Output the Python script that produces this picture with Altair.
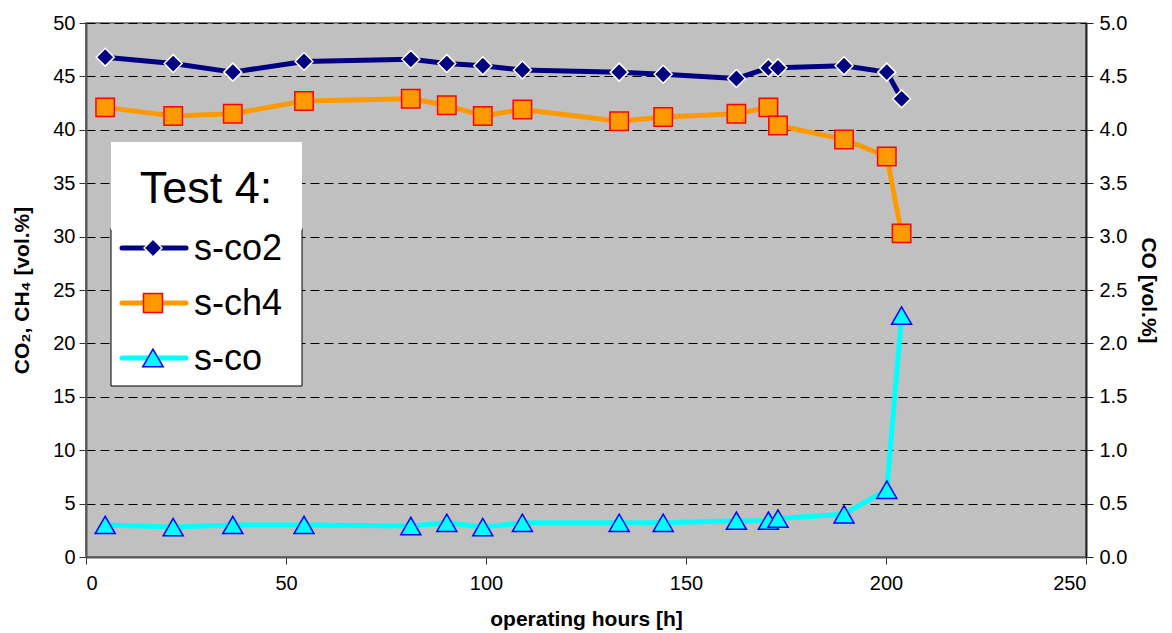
import altair as alt
import pandas as pd

# ---- data ----
hours = [4.8, 21.8, 36.7, 54.5, 81.2, 90.2, 99.2, 109.1, 133.3, 144.3, 162.6, 170.6, 173.0, 189.5, 200.2, 203.9]
co2 = [46.8, 46.2, 45.4, 46.4, 46.6, 46.2, 46.0, 45.6, 45.4, 45.2, 44.8, 45.8, 45.8, 46.0, 45.4, 42.9]
ch4 = [42.1, 41.3, 41.5, 42.7, 42.9, 42.3, 41.3, 41.9, 40.8, 41.2, 41.5, 42.1, 40.4, 39.1, 37.5, 30.3]
co = [0.30, 0.28, 0.30, 0.30, 0.29, 0.32, 0.28, 0.32, 0.32, 0.32, 0.34, 0.34, 0.36, 0.40, 0.63, 2.26]

series_names = ["s-co2", "s-ch4", "s-co"]
legend_title = "Test 4:"
x_title = "operating hours [h]"
y_left_title = "CO\u2082, CH\u2084 [vol.%]"
y_right_title = "CO [vol.%]"
x_ticks = [0, 50, 100, 150, 200, 250]
y_left_ticks = [0, 5, 10, 15, 20, 25, 30, 35, 40, 45, 50]
y_right_ticks = [0.0, 0.5, 1.0, 1.5, 2.0, 2.5, 3.0, 3.5, 4.0, 4.5, 5.0]

df = pd.DataFrame({"hours": hours, "co2": co2, "ch4": ch4, "co": co})

FONT = "Liberation Sans"
NAVY = "#000080"
ORANGE = "#FF9900"
CYAN = "#00FFFF"

x_enc = alt.X(
    "hours:Q",
    scale=alt.Scale(domain=[0, 250], nice=False, zero=False),
    axis=alt.Axis(
        values=x_ticks, title=x_title, grid=False, tickSize=7, tickColor="#333333",
        domainColor="#555555", domainWidth=2, labelFontSize=20, labelFont=FONT,
        labelColor="black", labelPadding=9, titleFont=FONT, titleFontSize=21,
        titleFontWeight="bold", titleColor="black", titlePadding=15,
    ),
)

left_axis = alt.Axis(
    values=y_left_ticks, title=y_left_title, grid=True, gridDash=[9, 5], gridColor="black",
    gridWidth=1, tickSize=7, tickColor="#333333", domainColor="#555555", domainWidth=2,
    labelFontSize=20, labelFont=FONT, labelColor="black", labelPadding=4,
    titleFont=FONT, titleFontSize=21, titleFontWeight="bold", titleColor="black", titlePadding=20,
)
left_scale = alt.Scale(domain=[0, 50], nice=False, zero=True)

right_axis = alt.Axis(
    orient="right", values=y_right_ticks, format=".1f", title=y_right_title, grid=False,
    tickSize=7, tickColor="#222222", domainColor="#222222", domainWidth=2,
    labelFontSize=20, labelFont=FONT, labelColor="black", labelPadding=6,
    titleFont=FONT, titleFontSize=21, titleFontWeight="bold", titleColor="black", titlePadding=11,
)
right_scale = alt.Scale(domain=[0, 5], nice=False, zero=True)

base = alt.Chart(df)

line_kw = dict(strokeWidth=5, strokeJoin="round", strokeCap="round")

co2_line = base.mark_line(color=NAVY, **line_kw).encode(
    x=x_enc, y=alt.Y("co2:Q", scale=left_scale, axis=left_axis))
ch4_line = base.mark_line(color=ORANGE, **line_kw).encode(
    x=x_enc, y=alt.Y("ch4:Q", scale=left_scale, axis=left_axis))
co2_pts = base.mark_point(shape="diamond", filled=True, fill=NAVY, stroke="white",
                          strokeWidth=1.5, size=320, opacity=1).encode(
    x=x_enc, y=alt.Y("co2:Q", scale=left_scale, axis=left_axis))
ch4_pts = base.mark_point(shape="square", filled=True, fill=ORANGE, stroke="red",
                          strokeWidth=1.5, size=340, opacity=1).encode(
    x=x_enc, y=alt.Y("ch4:Q", scale=left_scale, axis=left_axis))

left = alt.layer(co2_line, ch4_line, co2_pts, ch4_pts)

co_line = base.mark_line(color=CYAN, **line_kw).encode(
    x=x_enc, y=alt.Y("co:Q", scale=right_scale, axis=right_axis))
co_pts = base.mark_point(shape="triangle-up", filled=True, fill=CYAN, stroke="#0000FF",
                         strokeWidth=1.5, size=400, opacity=1).encode(
    x=x_enc, y=alt.Y("co:Q", scale=right_scale, axis=right_axis))

right = alt.layer(co_line, co_pts)

# ---- manual legend (drawn like the Excel legend box) ----
one = pd.DataFrame({"k": [0]})
leg_layers = []
leg_layers.append(
    alt.Chart(one).mark_rect(fill="white", stroke="black", strokeWidth=1).encode(
        x=alt.value(25), x2=alt.value(216), y=alt.value(205), y2=alt.value(363)))
leg_layers.append(
    alt.Chart(one).mark_rect(fill="white", strokeWidth=0).encode(
        x=alt.value(25), x2=alt.value(216), y=alt.value(119), y2=alt.value(207)))
leg_layers.append(
    alt.Chart(one).mark_text(text=legend_title, font=FONT, fontSize=45,
                             align="center", baseline="alphabetic", color="black").encode(
        x=alt.value(120), y=alt.value(180)))

leg_styles = [
    (NAVY, "diamond", NAVY, "white", 320),
    (ORANGE, "square", ORANGE, "red", 360),
    (CYAN, "triangle-up", CYAN, "#0000FF", 420),
]
leg_y = [225, 280, 335]
for name, (lc, shp, fc, sc, sz), yy in zip(series_names, leg_styles, leg_y):
    leg_layers.append(
        alt.Chart(one).mark_rule(color=lc, strokeWidth=5, strokeCap="round").encode(
            x=alt.value(36), x2=alt.value(100), y=alt.value(yy)))
    leg_layers.append(
        alt.Chart(one).mark_point(shape=shp, filled=True, fill=fc, stroke=sc, strokeWidth=1.5,
                                  size=sz, opacity=1).encode(
            x=alt.value(67), y=alt.value(yy)))
    leg_layers.append(
        alt.Chart(one).mark_text(text=name, font=FONT, fontSize=36, align="left",
                                 baseline="middle", color="black").encode(
            x=alt.value(108), y=alt.value(yy + 1)))

chart = alt.layer(left, right, *leg_layers).resolve_scale(y="independent").properties(
    width=1000,
    height=534,
    autosize=alt.AutoSizeParams(type="none"),
    padding={"left": 78, "top": 15, "right": 78, "bottom": 76},
).configure_view(fill="#C0C0C0", stroke="#808080", strokeWidth=2)

chart.save("out.html", embed_options={"renderer": "svg", "actions": False})
